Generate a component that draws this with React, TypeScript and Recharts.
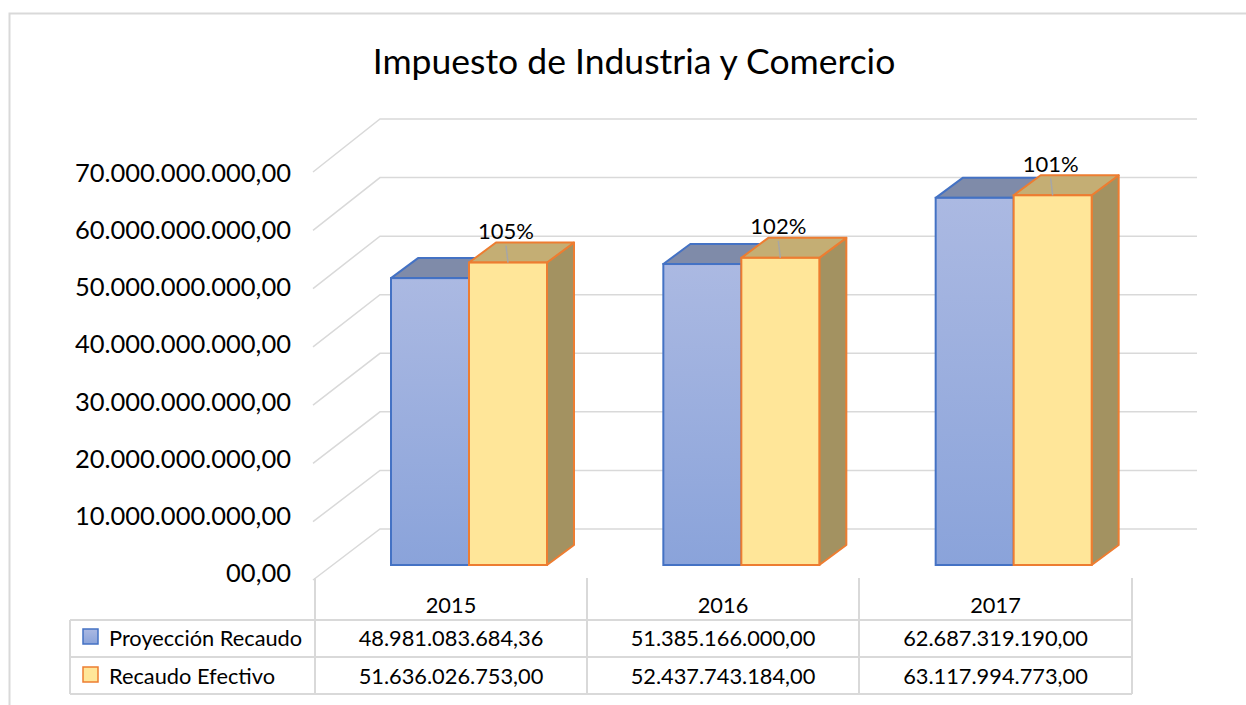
import React from "react";
import { BarChart, Bar, XAxis, YAxis, CartesianGrid, LabelList } from "recharts";

const years = ["2015", "2016", "2017"];
const proyeccion = [48981083684.36, 51385166000, 62687319190];
const efectivo = [51636026753, 52437743184, 63117994773];
const proyeccionText = ["48.981.083.684,36", "51.385.166.000,00", "62.687.319.190,00"];
const efectivoText = ["51.636.026.753,00", "52.437.743.184,00", "63.117.994.773,00"];
const yTicks = [0, 10e9, 20e9, 30e9, 40e9, 50e9, 60e9, 70e9];
const yTickLabels = [
  "00,00",
  "10.000.000.000,00",
  "20.000.000.000,00",
  "30.000.000.000,00",
  "40.000.000.000,00",
  "50.000.000.000,00",
  "60.000.000.000,00",
  "70.000.000.000,00",
];

const data = years.map((year, i) => ({
  year,
  proyeccion: proyeccion[i],
  efectivo: efectivo[i],
  pct: `${Math.round((efectivo[i] / proyeccion[i]) * 100)}%`,
}));

const W = 1246;
const H = 705;
const BASE = 565; // bar plane baseline
const TOP = 155; // bar plane 70.000.000.000
const DX = 27; // bar depth
const DY = -20;
const GRID = "#d9d9d9";
const FONT = "Lato, 'Open Sans', sans-serif";
const TABLE_FS = 21.8;

// share of the axis range for a y pixel on the bar plane
const frac = (y: number) => (BASE - y) / (BASE - TOP);

const GridLine = (props: any) => {
  const t = frac(props.y1);
  const yFront = 580 - t * 408;
  const yBack = 529 - t * 410;
  return (
    <path
      key={props.key}
      d={`M313,${yFront} L380,${yBack} L1197,${yBack}`}
      fill="none"
      stroke={GRID}
      strokeWidth={1.5}
    />
  );
};

const YTick = (props: any) => {
  const { y, payload } = props;
  const t = frac(y);
  const i = yTicks.indexOf(payload.value);
  return (
    <text
      x={291}
      y={572 - t * 400}
      textAnchor="end"
      dominantBaseline="central"
      fontFamily={FONT}
      fontSize={25.5}
      fill="#000"
    >
      {yTickLabels[i]}
    </text>
  );
};

const makeBar = (front: string, top: string, side: string, stroke: string, gradId?: string) =>
  (props: any) => {
    const { x, y, width, height } = props;
    if (height == null || height <= 0) return null;
    const b = y + height;
    return (
      <g>
        {gradId && (
          <defs>
            <linearGradient id={gradId} x1="0" y1="0" x2="0" y2="1">
              <stop offset="0%" stopColor="#abb9e2" />
              <stop offset="100%" stopColor="#8aa3da" />
            </linearGradient>
          </defs>
        )}
        <polygon
          points={`${x + width},${y} ${x + width + DX},${y + DY} ${x + width + DX},${b + DY} ${x + width},${b}`}
          fill={side}
          stroke={stroke}
          strokeWidth={2}
          strokeLinejoin="round"
        />
        <polygon
          points={`${x},${y} ${x + DX},${y + DY} ${x + width + DX},${y + DY} ${x + width},${y}`}
          fill={top}
          stroke={stroke}
          strokeWidth={2}
          strokeLinejoin="round"
        />
        <rect
          x={x}
          y={y}
          width={width}
          height={height}
          fill={gradId ? `url(#${gradId})` : front}
          stroke={stroke}
          strokeWidth={2}
        />
      </g>
    );
  };

const BlueBar = makeBar("#9fb1de", "#7f8ba9", "#6a7590", "#4472c4", "blueFront");
const OrangeBar = makeBar("#ffe699", "#c4ae74", "#a39261", "#ed7d31");

const PctLabel = (props: any) => {
  const { x, y, width, index } = props;
  const cx = x + width / 2;
  return (
    <g>
      <line x1={cx - 2} y1={y - 17} x2={cx} y2={y} stroke="#a6a6a6" strokeWidth={1.5} />
      <text
        x={cx - 2}
        y={y - 32}
        textAnchor="middle"
        dominantBaseline="central"
        fontFamily={FONT}
        fontSize={22}
        fill="#000"
      >
        {data[index].pct}
      </text>
    </g>
  );
};

const colX = [315, 587, 859, 1132];
const rowY = [620, 657, 694];

const DataTable = () => (
  <svg
    width={W}
    height={H}
    style={{ position: "absolute", left: 0, top: 0, pointerEvents: "none" }}
  >
    <defs>
      <linearGradient id="blueKey" x1="0" y1="0" x2="0" y2="1">
        <stop offset="0%" stopColor="#abb9e2" />
        <stop offset="100%" stopColor="#8aa3da" />
      </linearGradient>
    </defs>
    <rect x={9.5} y={13.5} width={1300} height={800} fill="none" stroke={GRID} strokeWidth={2} />
    <text
      x={634}
      y={60}
      textAnchor="middle"
      dominantBaseline="central"
      fontFamily={FONT}
      fontSize={35.5}
      fill="#000"
    >
      Impuesto de Industria y Comercio
    </text>
    {colX.map((cx) => (
      <line key={`v${cx}`} x1={cx} y1={578} x2={cx} y2={694} stroke={GRID} strokeWidth={2} />
    ))}
    <line x1={70} y1={620} x2={70} y2={694} stroke={GRID} strokeWidth={2} />
    {rowY.map((ry) => (
      <line key={`h${ry}`} x1={70} y1={ry} x2={1132} y2={ry} stroke={GRID} strokeWidth={2} />
    ))}
    {years.map((yr, i) => (
      <text
        key={yr}
        x={(colX[i] + colX[i + 1]) / 2}
        y={604}
        textAnchor="middle"
        dominantBaseline="central"
        fontFamily={FONT}
        fontSize={TABLE_FS}
      >
        {yr}
      </text>
    ))}
    <rect x={83} y={629} width={15} height={15} fill="url(#blueKey)" stroke="#4472c4" strokeWidth={1.5} />
    <rect x={83} y={667} width={15} height={15} fill="#ffe699" stroke="#ed7d31" strokeWidth={1.5} />
    <text x={109} y={637} dominantBaseline="central" fontFamily={FONT} fontSize={TABLE_FS}>
      Proyección Recaudo
    </text>
    <text x={109} y={675} dominantBaseline="central" fontFamily={FONT} fontSize={TABLE_FS}>
      Recaudo Efectivo
    </text>
    {proyeccionText.map((v, i) => (
      <text
        key={`p${i}`}
        x={(colX[i] + colX[i + 1]) / 2}
        y={637}
        textAnchor="middle"
        dominantBaseline="central"
        fontFamily={FONT}
        fontSize={TABLE_FS}
      >
        {v}
      </text>
    ))}
    {efectivoText.map((v, i) => (
      <text
        key={`e${i}`}
        x={(colX[i] + colX[i + 1]) / 2}
        y={675}
        textAnchor="middle"
        dominantBaseline="central"
        fontFamily={FONT}
        fontSize={TABLE_FS}
      >
        {v}
      </text>
    ))}
  </svg>
);

export default function App() {
  return (
    <div style={{ position: "absolute", left: 0, top: 0, width: W, height: H, background: "#fff" }}>
      <BarChart
        width={W}
        height={H}
        data={data}
        margin={{ top: TOP, right: 96, bottom: H - BASE, left: 0 }}
        barGap={0}
        barSize={78}
      >
        <CartesianGrid horizontal={GridLine} vertical={false} />
        <XAxis dataKey="year" hide />
        <YAxis
          width={333}
          domain={[0, 70e9]}
          ticks={yTicks}
          axisLine={false}
          tickLine={false}
          tick={YTick}
        />
        <Bar dataKey="proyeccion" shape={BlueBar} isAnimationActive={false} />
        <Bar dataKey="efectivo" shape={OrangeBar} isAnimationActive={false}>
          <LabelList dataKey="pct" content={PctLabel} />
        </Bar>
      </BarChart>
      <DataTable />
    </div>
  );
}
